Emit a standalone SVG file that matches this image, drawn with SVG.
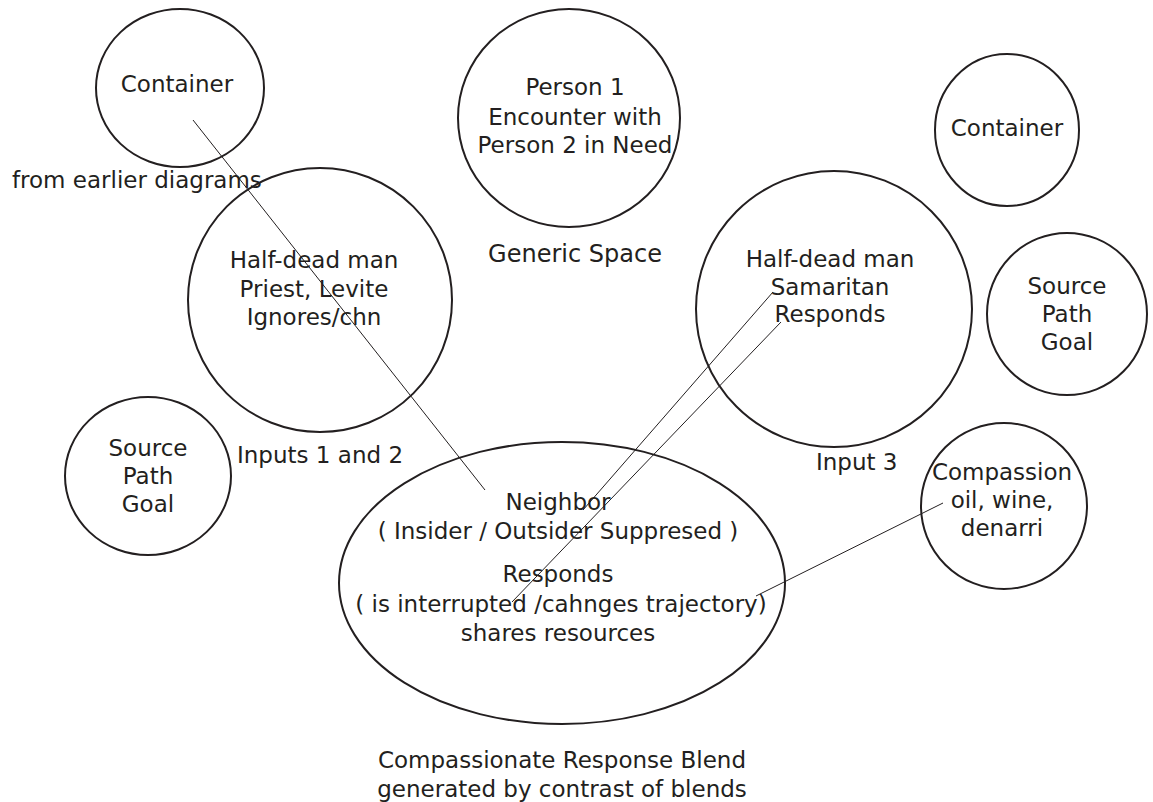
<svg xmlns="http://www.w3.org/2000/svg" width="1153" height="802" viewBox="0 0 1153 802">
<style>
.n{fill:none;stroke:#231f20;stroke-width:2}
.t{font-family:"DejaVu Sans",Verdana,sans-serif;font-size:23px;fill:#231f20;text-anchor:middle}
.s{text-anchor:start}
.c{stroke:#231f20;stroke-width:1;fill:none}
</style>
<rect width="1153" height="802" fill="#fff"/>
<g id="container-left"><ellipse class="n" cx="180" cy="88" rx="84" ry="79"/><text class="t" x="177" y="92">Container</text></g>
<g id="earlier-label"><text class="t s" x="12" y="188">from earlier diagrams</text></g>
<g id="generic-space"><ellipse class="n" cx="569" cy="118" rx="111" ry="109"/><text class="t" x="575" y="95">Person 1</text><text class="t" x="575" y="125">Encounter with</text><text class="t" x="575" y="153">Person 2 in Need</text><text class="t" x="575" y="262" style="font-size:24px">Generic Space</text></g>
<g id="inputs-1-2"><circle class="n" cx="320" cy="300" r="132"/><text class="t" x="314" y="268">Half-dead man</text><text class="t" x="314" y="297">Priest, Levite</text><text class="t" x="314" y="325">Ignores/chn</text><text class="t s" x="237" y="463">Inputs 1 and 2</text></g>
<g id="spg-left"><ellipse class="n" cx="148" cy="476" rx="83" ry="79"/><text class="t" x="148" y="456">Source</text><text class="t" x="148" y="484">Path</text><text class="t" x="148" y="512">Goal</text></g>
<g id="input-3"><circle class="n" cx="834" cy="309" r="138"/><text class="t" x="830" y="267">Half-dead man</text><text class="t" x="830" y="295">Samaritan</text><text class="t" x="830" y="322">Responds</text><text class="t s" x="816" y="470">Input 3</text></g>
<g id="container-right"><ellipse class="n" cx="1007" cy="130" rx="72" ry="76"/><text class="t" x="1007" y="136">Container</text></g>
<g id="spg-right"><ellipse class="n" cx="1067" cy="314" rx="80" ry="81"/><text class="t" x="1067" y="294">Source</text><text class="t" x="1067" y="322">Path</text><text class="t" x="1067" y="350">Goal</text></g>
<g id="compassion"><circle class="n" cx="1004" cy="506" r="83"/><text class="t" x="1002" y="480">Compassion</text><text class="t" x="1002" y="508">oil, wine,</text><text class="t" x="1002" y="536">denarri</text></g>
<g id="blend"><ellipse class="n" cx="562" cy="583" rx="223" ry="141"/><text class="t" x="558" y="510">Neighbor</text><text class="t" x="558" y="539">( Insider / Outsider Suppresed )</text><text class="t" x="558" y="582">Responds</text><text class="t" x="561" y="612">( is interrupted /cahnges trajectory)</text><text class="t" x="558" y="641">shares resources</text><text class="t" x="562" y="768">Compassionate Response Blend</text><text class="t" x="562" y="797">generated by contrast of blends</text></g>
<g id="connectors">
<line class="c" x1="193" y1="120" x2="485" y2="490"/>
<line class="c" x1="773" y1="292" x2="583" y2="510"/>
<line class="c" x1="781" y1="322" x2="512" y2="602"/>
<line class="c" x1="943" y1="503" x2="756" y2="596"/>
</g>
</svg>
